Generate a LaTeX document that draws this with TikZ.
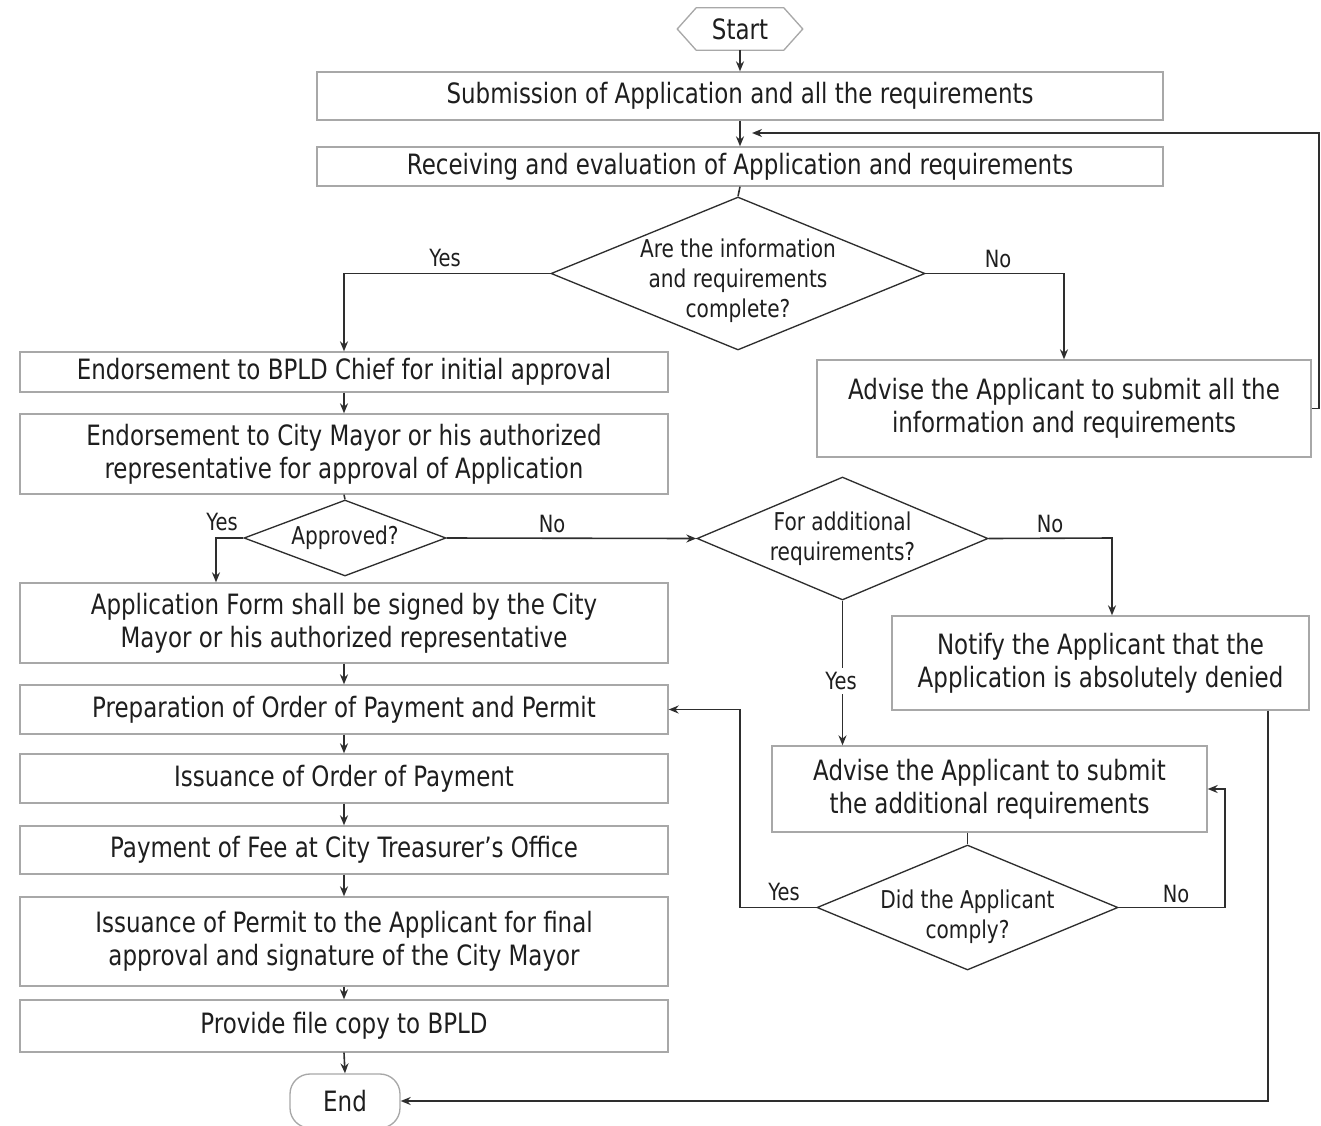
\documentclass[tikz,border=0pt]{standalone}
\usepackage{fontspec}
\setmainfont{DejaVu Sans}[FakeStretch=0.82]
\usetikzlibrary{shapes.geometric,arrows.meta,calc}
\definecolor{boxgray}{HTML}{A8A8A8}
\definecolor{linegray}{HTML}{2E2E2E}
\definecolor{txt}{HTML}{1E1E1E}
\begin{document}
\begin{tikzpicture}[x=0.75pt,y=-0.75pt,
  every node/.style={text=txt},
  box/.style={draw=boxgray, line width=1pt, fill=white, inner sep=0pt, align=center,
    font=\fontsize{21pt}{24.75pt}\selectfont},
  dia/.style={diamond, draw=linegray, line width=1pt, inner sep=0pt, fill=white},
  dtext/.style={align=center, font=\fontsize{18.4pt}{22.75pt}\selectfont},
  lbl/.style={font=\fontsize{17.8pt}{20pt}\selectfont, inner sep=1pt},
  arr/.style={draw=linegray, line width=1.2pt, -{Stealth[length=7.5pt,width=6pt]}},
  ln/.style={draw=linegray, line width=1.2pt},
]
\useasboundingbox (0,0) rectangle (1321,1125);

% Start
\node[font=\fontsize{21pt}{22pt}\selectfont, minimum width=93.75pt, minimum height=31.5pt, inner sep=0pt] (start) at (740,29) {Start};
\draw[draw=boxgray, line width=1pt] (start.west) -- ([xshift=14.25pt]start.north west) -- ([xshift=-14.25pt]start.north east) -- (start.east) -- ([xshift=-14.25pt]start.south east) -- ([xshift=14.25pt]start.south west) -- cycle;

\node[box, minimum width=634.5pt, minimum height=36pt] (sub) at (740,96) {Submission of Application and all the requirements};
\node[box, minimum width=634.5pt, minimum height=29.25pt] (rec) at (740,166.5) {Receiving and evaluation of Application and requirements};

\node[dia, minimum width=280.5pt, minimum height=114.75pt,
  label={[dtext, yshift=-5.5pt]center:Are the information\\and requirements\\complete?}] (d1) at (738,273.5) {};

\node[box, minimum width=370.5pt, minimum height=72.75pt] (adv1) at (1064,408.5) {Advise the Applicant to submit all the\\information and requirements};

% Left column
\node[box, minimum width=486pt, minimum height=30pt] (bpld) at (344,372) {Endorsement to BPLD Chief for initial approval};
\node[box, minimum width=486pt, minimum height=60pt] (cm) at (344,454) {Endorsement to City Mayor or his authorized\\representative for approval of Application};

\node[dia, minimum width=151.5pt, minimum height=57pt,
  label={[dtext]center:Approved?}] (appr) at (345,538) {};

\node[box, minimum width=486pt, minimum height=60pt] (form) at (344,623) {Application Form shall be signed by the City\\Mayor or his authorized representative};
\node[box, minimum width=486pt, minimum height=36.75pt] (prep) at (344,709.5) {Preparation of Order of Payment and Permit};
\node[box, minimum width=486pt, minimum height=36.75pt] (iop) at (344,778.5) {Issuance of Order of Payment};
\node[box, minimum width=486pt, minimum height=36pt] (pay) at (344,850) {Payment of Fee at City Treasurer’s Office};
\node[box, minimum width=486pt, minimum height=66.75pt] (perm) at (344,941.5) {Issuance of Permit to the Applicant for final\\approval and signature of the City Mayor};
\node[box, minimum width=486pt, minimum height=39pt] (prov) at (344,1026) {Provide file copy to BPLD};
\node[box, rounded corners=15pt, minimum width=82.5pt, minimum height=40.5pt] (end) at (345,1101) {End};

% Right part
\node[dia, minimum width=218.25pt, minimum height=92.25pt,
  label={[dtext]center:For additional\\requirements?}] (d2) at (842.5,538.5) {};
\node[box, minimum width=312.75pt, minimum height=70.5pt] (notify) at (1100.5,663) {Notify the Applicant that the\\Application is absolutely denied};
\node[box, minimum width=326.25pt, minimum height=64.5pt] (adv2) at (989.5,789) {Advise the Applicant to submit\\the additional requirements};
\node[dia, minimum width=225.75pt, minimum height=93.75pt,
  label={[dtext, yshift=-7pt]center:Did the Applicant\\comply?}] (d3) at (967.5,907.5) {};

% coordinates for connector bends
\coordinate (fb) at (752,133);
\coordinate (fbc) at (1319,408.5);
\coordinate (ay) at (216,538);
\coordinate (nx) at (1112,538);
\coordinate (nd) at (1268,1101);
\coordinate (yx) at (740,907.5);
\coordinate (nx3) at (1225,907.5);

% connectors
\draw[arr] (start.south) -- (sub.north);
\draw[arr] (sub.south) -- (rec.north);
\draw[ln] (rec.south) -- (d1.north);
\draw[arr] (d1.west) -| (bpld.north);
\draw[arr] (d1.east) -| (adv1.north);
\draw[arr] (adv1.east) -- (fbc) |- (fb);
\draw[arr] (bpld.south) -- (cm.north);
\draw[ln] (cm.south) -- (appr.north);
\draw[arr] (appr.west) -- (ay) -- (ay |- form.north);
\draw[arr] (appr.east) -- (d2.west);
\draw[arr] (d2.east) -- (nx) -- (nx |- notify.north);
\draw[arr] (d2.south) -- (d2.south |- adv2.north);
\draw[arr] (nd |- notify.south) -- (nd) -- (end.east);
\draw[arr] (form.south) -- (prep.north);
\draw[arr] (prep.south) -- (iop.north);
\draw[arr] (iop.south) -- (pay.north);
\draw[arr] (pay.south) -- (perm.north);
\draw[arr] (perm.south) -- (prov.north);
\draw[arr] (prov.south) -- (end.north);
\draw[ln] (d3.north |- adv2.south) -- (d3.north);
\draw[arr] (d3.west) -- (yx) |- (prep.east);
\draw[arr] (d3.east) -- (nx3) |- (adv2.east);

% labels
\node[lbl] (l1) at (445,258) {Yes};
\node[lbl] (l2) at (998,259) {No};
\node[lbl] (l3) at (222,522) {Yes};
\node[lbl] (l4) at (552,524) {No};
\node[lbl] (l5) at (1050,524) {No};
\node[lbl, fill=white, inner sep=3pt] (l6) at (841,681) {Yes};
\node[lbl] (l7) at (784,892) {Yes};
\node[lbl] (l8) at (1176,894) {No};
\end{tikzpicture}
\end{document}
